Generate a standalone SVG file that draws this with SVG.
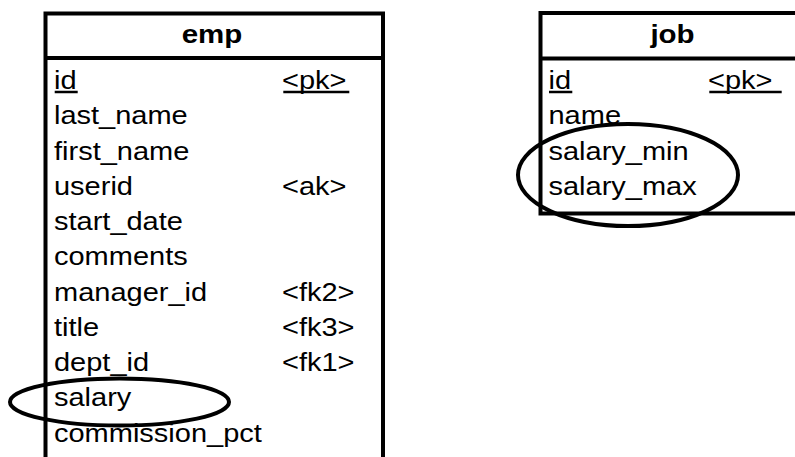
<svg xmlns="http://www.w3.org/2000/svg" width="795" height="457" viewBox="0 0 795 457">
  <style>
    .frame { fill: none; stroke: #000; stroke-width: 4; }
    .rule { stroke: #000; stroke-width: 2.5; }
    .mark { fill: none; stroke: #000; stroke-width: 4; }
    text { font-family: "Liberation Sans", Arial, sans-serif; font-size: 25px; fill: #000; }
    .head { font-weight: bold; text-anchor: middle; }
  </style>
  <rect width="795" height="457" fill="#fff"/>

  <!-- emp table -->
  <g id="emp">
    <path class="frame" d="M45.5,460 V13.5 H383 V460"/>
    <line class="frame" x1="45.5" y1="58" x2="383" y2="58"/>
    <text class="head" transform="translate(212,42.5) scale(1.18,1)">emp</text>
    <text transform="translate(54,89) scale(1.16,1)">id</text>
    <text transform="translate(282,89) scale(1.16,1)">&lt;pk&gt;</text>
    <line class="rule" x1="54.7" y1="92" x2="77.7" y2="92"/>
    <line class="rule" x1="283.3" y1="92" x2="349.3" y2="92"/>
    <text transform="translate(54,124.25) scale(1.16,1)">last_name</text>
    <text transform="translate(54,159.5) scale(1.16,1)">first_name</text>
    <text transform="translate(54,194.75) scale(1.16,1)">userid</text>
    <text transform="translate(282,194.75) scale(1.16,1)">&lt;ak&gt;</text>
    <text transform="translate(54,230) scale(1.16,1)">start_date</text>
    <text transform="translate(54,265.25) scale(1.16,1)">comments</text>
    <text transform="translate(54,300.5) scale(1.16,1)">manager_id</text>
    <text transform="translate(282,300.5) scale(1.16,1)">&lt;fk2&gt;</text>
    <text transform="translate(54,335.75) scale(1.16,1)">title</text>
    <text transform="translate(282,335.75) scale(1.16,1)">&lt;fk3&gt;</text>
    <text transform="translate(54,371) scale(1.16,1)">dept_id</text>
    <text transform="translate(282,371) scale(1.16,1)">&lt;fk1&gt;</text>
    <text transform="translate(54,406.25) scale(1.16,1)">salary</text>
    <text transform="translate(54,441.5) scale(1.16,1)">commission_pct</text>
  </g>

  <!-- job table -->
  <g id="job">
    <path class="frame" d="M800,13 H540.5 V213.5 H800"/>
    <line class="frame" x1="540.5" y1="58.5" x2="800" y2="58.5"/>
    <text class="head" transform="translate(672.5,42.5) scale(1.18,1)">job</text>
    <text transform="translate(548.5,89) scale(1.16,1)">id</text>
    <text transform="translate(708,89) scale(1.16,1)">&lt;pk&gt;</text>
    <line class="rule" x1="549" y1="92" x2="572.3" y2="92"/>
    <line class="rule" x1="709.3" y1="92" x2="781.7" y2="92"/>
    <text transform="translate(548.5,124.25) scale(1.16,1)">name</text>
    <text transform="translate(548.5,159.5) scale(1.16,1)">salary_min</text>
    <text transform="translate(548.5,194.75) scale(1.16,1)">salary_max</text>
  </g>

  <!-- highlight rings around the salary columns -->
  <g id="highlights">
    <ellipse class="mark" cx="119.5" cy="402" rx="109.5" ry="23.5"/>
    <ellipse class="mark" cx="628" cy="175" rx="110" ry="51"/>
  </g>
</svg>
